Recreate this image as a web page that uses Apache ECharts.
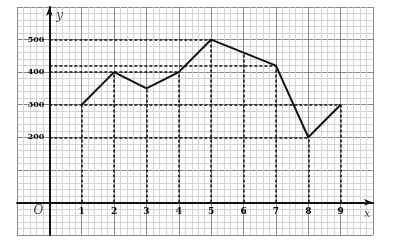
<!DOCTYPE html>
<html><head><meta charset="utf-8">
<script src="https://cdn.jsdelivr.net/npm/echarts@6/dist/echarts.min.js"></script>
<style>html,body{margin:0;padding:0;background:#fff}#c{width:401px;height:240px}</style>
</head><body><div id="c"></div>
<script>
const xValues = [1, 2, 3, 4, 5, 6, 7, 8, 9];
const yValues = [300, 400, 350, 400, 500, 460, 420, 200, 300];
const xTickLabels = [1, 2, 3, 4, 5, 6, 7, 8, 9];
const yTickLabels = [200, 300, 400, 500];
// horizontal guide lines: [level, x reached]
const hGuideLevels = [300, 400, 500, 420, 200];
const hGuideEnds = [9, 4, 5, 7, 8];

const pts = xValues.map((x, i) => [x, yValues[i]]);
const guides = [];
xValues.forEach((x, i) => guides.push([{coord: [x, 0]}, {coord: [x, yValues[i]]}]));
hGuideLevels.forEach((v, i) => guides.push([{coord: [0, v]}, {coord: [hGuideEnds[i], v]}]));

const txt = {fontFamily: 'DejaVu Serif', color: '#000', fontWeight: 'bold', opacity: 1};
const chart = echarts.init(document.getElementById('c'));
chart.setOption({
  animation: false,
  grid: {left: 17, right: 28, top: 7, bottom: 5, containLabel: false, outerBoundsMode: 'none'},
  xAxis: {
    type: 'value', min: -1, max: 10, interval: 1,
    axisLine: {onZero: true, lineStyle: {color: '#111', width: 2}, symbol: ['none', 'arrow'], symbolSize: [5, 9]},
    axisTick: {show: false},
    axisLabel: {show: false},
    splitLine: {show: true, lineStyle: {color: '#8a8a8a', width: 1}},
    minorTick: {show: false, splitNumber: 5},
    minorSplitLine: {show: true, lineStyle: {color: '#d4d4d4', width: 1}}
  },
  yAxis: {
    type: 'value', min: -100, max: 600, interval: 100,
    axisLine: {onZero: true, lineStyle: {color: '#111', width: 2}, symbol: ['none', 'arrow'], symbolSize: [5, 9]},
    axisTick: {show: false},
    axisLabel: {show: false},
    splitLine: {show: true, lineStyle: {color: '#8a8a8a', width: 1}},
    minorTick: {show: false, splitNumber: 5},
    minorSplitLine: {show: true, lineStyle: {color: '#d4d4d4', width: 1}}
  },
  series: [
    {
      type: 'line', data: pts, symbol: 'none',
      lineStyle: {color: '#111', width: 2},
      markLine: {
        silent: true, symbol: 'none', label: {show: false},
        lineStyle: {color: '#111', type: [3, 2], width: 1.5},
        data: guides
      },
      z: 5
    },
    {
      type: 'scatter', symbolSize: 0, silent: true, z: 6,
      data: xTickLabels.map(v => [v, 0]),
      label: Object.assign({show: true, position: 'bottom', distance: 5, fontSize: 9, formatter: p => String(p.value[0])}, txt)
    },
    {
      type: 'scatter', symbolSize: 0, silent: true, z: 6,
      data: yTickLabels.map(v => [0, v]),
      label: Object.assign({show: true, position: 'left', distance: 5, fontSize: 8, formatter: p => String(p.value[1])}, txt)
    },
    {
      type: 'scatter', symbolSize: 0, silent: true, z: 6,
      data: [
        {value: [0, 0], label: {show: true, formatter: 'O', position: 'left', offset: [-1, 8], fontSize: 12, fontStyle: 'italic', fontFamily: 'DejaVu Serif', color: '#111'}},
        {value: [10, 0], label: {show: true, formatter: 'x', position: 'bottom', offset: [-6, 1], fontSize: 11, fontStyle: 'italic', fontFamily: 'DejaVu Serif', color: '#111'}},
        {value: [0, 600], label: {show: true, formatter: 'y', position: 'right', offset: [2, 9], fontSize: 12, fontStyle: 'italic', fontFamily: 'DejaVu Serif', color: '#111'}}
      ]
    }
  ]
});
</script></body></html>
